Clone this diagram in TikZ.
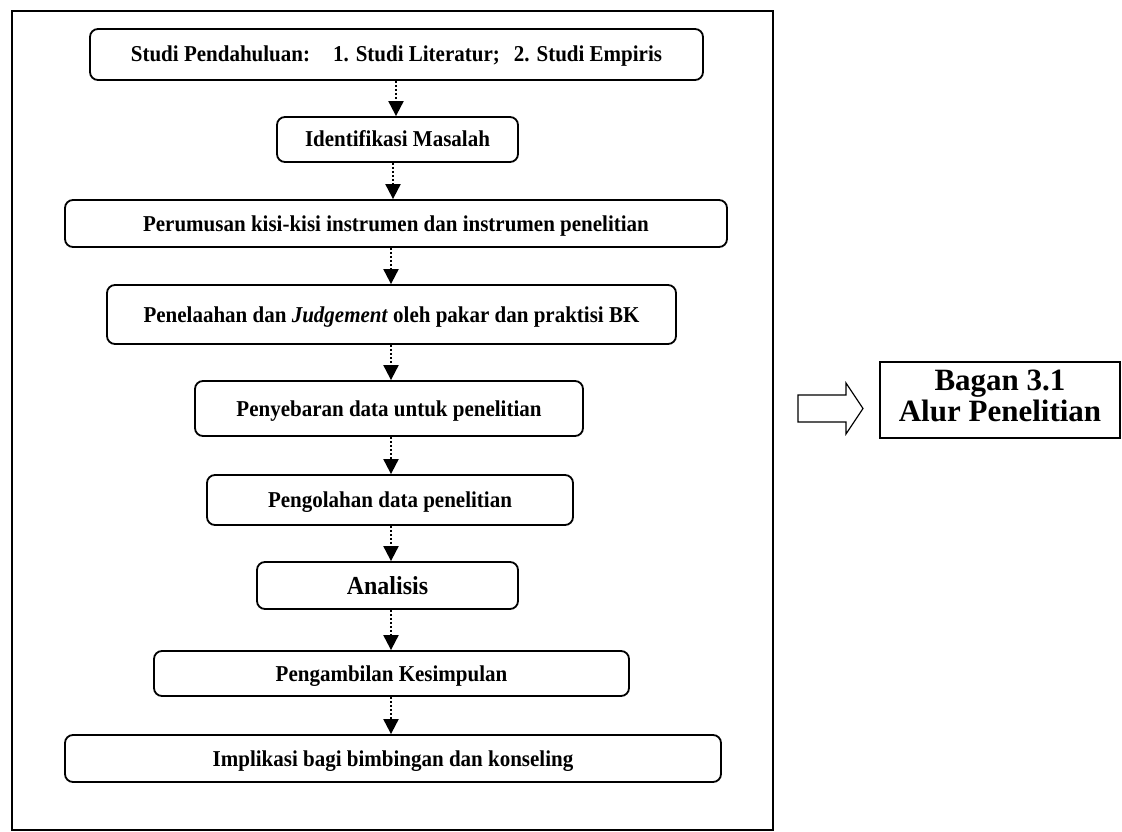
\documentclass[tikz,border=0pt]{standalone}
\usepackage{fontspec}
\setmainfont{Liberation Serif}
\usetikzlibrary{arrows.meta}
\newcommand{\tallt}[1]{\scalebox{1}[1.08]{#1}}
\begin{document}
\begin{tikzpicture}[x=1pt,y=-1pt,
  box/.style={draw, line width=1.8pt, rounded corners=8pt, inner sep=0pt,
    font=\fontsize{21}{25}\selectfont\bfseries, text height=15pt, text depth=0pt},
  flow/.style={line width=2pt, dash pattern=on 2pt off 2pt,
    -{Triangle[length=15pt,width=15pt]}},
  frame/.style={draw, line width=1.5pt},
]
\useasboundingbox (0,0) rectangle (1122,832);
\draw[frame] (12,11) rectangle (773,830);

\node[box, minimum width=613pt, minimum height=51pt] (b1) at (396.5,54.5)
  {\tallt{Studi Pendahuluan:\hspace{23pt}1. Studi Literatur;\hspace{14pt}2. Studi Empiris}\hspace{32pt}};
\node[box, minimum width=241pt, minimum height=45pt] (b2) at (397.5,139.5) {\tallt{Identifikasi Masalah}};
\node[box, minimum width=662pt, minimum height=47pt] (b3) at (396,223.5) {\tallt{Perumusan kisi-kisi instrumen dan instrumen penelitian}};
\node[box, minimum width=569pt, minimum height=59pt] (b4) at (391.5,314.5) {\tallt{Penelaahan dan \textit{Judgement} oleh pakar dan praktisi BK}};
\node[box, minimum width=388pt, minimum height=55pt] (b5) at (389,408.5) {\tallt{Penyebaran data untuk penelitian}};
\node[box, minimum width=366pt, minimum height=50pt] (b6) at (390,500) {\tallt{Pengolahan data penelitian}};
\node[box, minimum width=261pt, minimum height=47pt, font=\fontsize{24}{28}\selectfont\bfseries, text height=17pt] (b7) at (387.5,585.5) {\tallt{Analisis}};
\node[box, minimum width=475pt, minimum height=45pt] (b8) at (391.5,673.5) {\tallt{Pengambilan Kesimpulan}};
\node[box, minimum width=656pt, minimum height=47pt] (b9) at (393,758.5) {\tallt{Implikasi bagi bimbingan dan konseling}};

\coordinate (a1) at (396,0);
\coordinate (a2) at (393,0);
\coordinate (a3) at (391,0);
\draw[flow] (b1.south -| a1) -- (b2.north -| a1);
\draw[flow] (b2.south -| a2) -- (b3.north -| a2);
\draw[flow] (b3.south -| a3) -- (b4.north -| a3);
\draw[flow] (b4.south -| a3) -- (b5.north -| a3);
\draw[flow] (b5.south -| a3) -- (b6.north -| a3);
\draw[flow] (b6.south -| a3) -- (b7.north -| a3);
\draw[flow] (b7.south -| a3) -- (b8.north -| a3);
\draw[flow] (b8.south -| a3) -- (b9.north -| a3);

\draw[line width=1.2pt, line join=miter] (798,395) -- (846,395) -- (846,383) -- (863,408.5)
  -- (846,434) -- (846,422) -- (798,422) -- cycle;

\node[draw, line width=1.8pt, minimum width=240pt, minimum height=76pt, inner sep=0pt] (bagan) at (1000,400)
  {\fontsize{31}{31}\selectfont\bfseries\begin{tabular}{@{}c@{}}Bagan 3.1\\Alur Penelitian\end{tabular}};
\end{tikzpicture}
\end{document}
